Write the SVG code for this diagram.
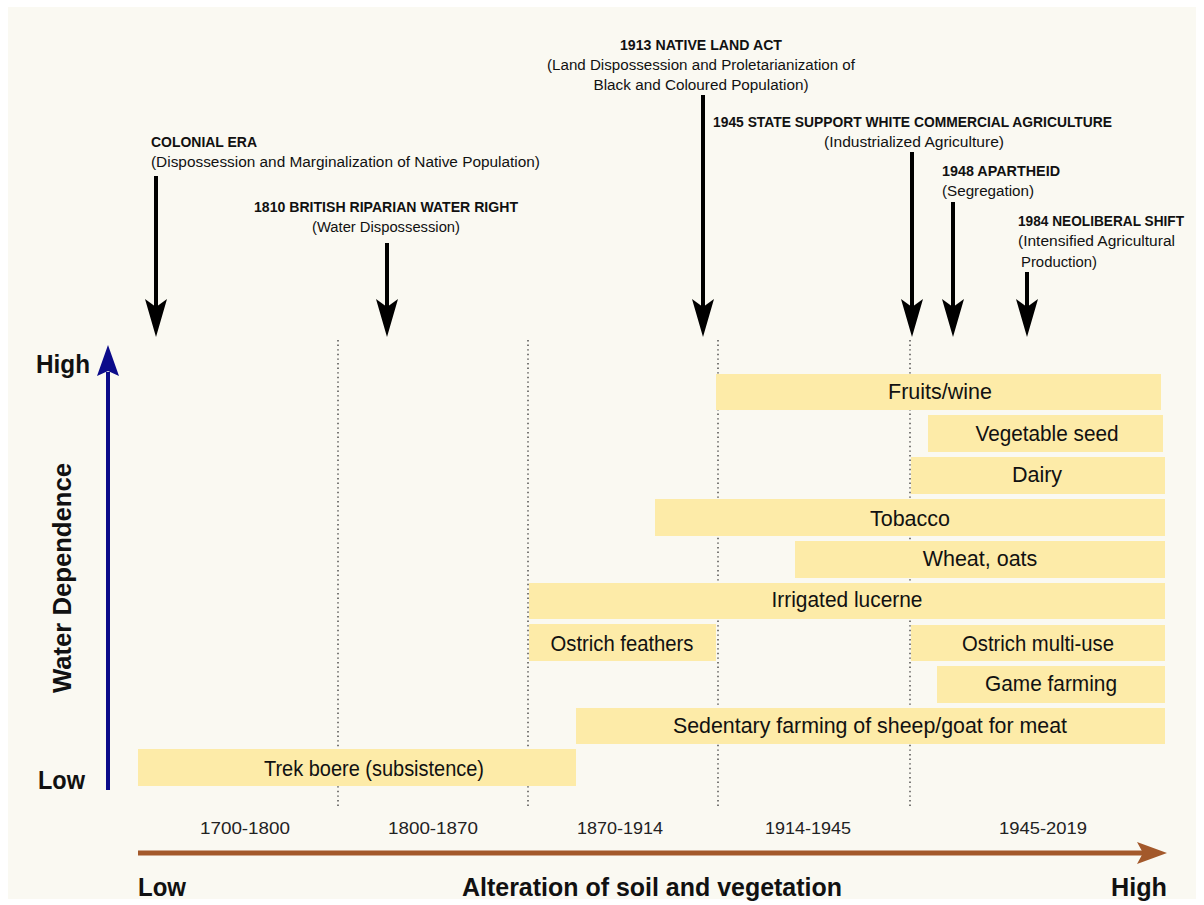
<svg xmlns="http://www.w3.org/2000/svg" width="1204" height="905" viewBox="0 0 1204 905">
<style>
.t{font-family:"Liberation Sans",Arial,sans-serif;fill:#111}
.ev{font-size:14px;font-weight:bold}
.sub{font-size:14px}
.bar{fill:#FDEBA8}
.bl{font-size:21.5px;text-anchor:middle}
.per{font-size:17px;text-anchor:middle;fill:#222}
.ax{font-size:25px;font-weight:bold}
.dot{stroke:#444;stroke-width:1.4;stroke-dasharray:1.4 3.2;fill:none}
.ea{stroke:#000;stroke-width:4;marker-end:url(#ah)}
</style>
<defs>
<marker id="ah" viewBox="0 0 38 22" refX="21" refY="11" markerWidth="38" markerHeight="22" markerUnits="userSpaceOnUse" orient="auto">
<path d="M0,0 L8,11 L0,22 L38,11 Z" fill="#000"/>
</marker>
</defs>
<rect x="0" y="0" width="1204" height="905" fill="#ffffff"/>
<rect x="8" y="7" width="1188" height="892" fill="#FAF9F2"/>

<g id="gridlines">
<line class="dot" x1="338" y1="340" x2="338" y2="806"/>
<line class="dot" x1="528" y1="340" x2="528" y2="806"/>
<line class="dot" x1="718" y1="340" x2="718" y2="806"/>
<line class="dot" x1="910" y1="340" x2="910" y2="806"/>
</g>

<g id="bar-fruits"><rect class="bar" x="716" y="374" width="445" height="36"/><text class="t bl" x="940" y="399">Fruits/wine</text></g>
<g id="bar-vegseed"><rect class="bar" x="928" y="415" width="235" height="37"/><text class="t bl" x="1047" y="441" textLength="143" lengthAdjust="spacingAndGlyphs">Vegetable seed</text></g>
<g id="bar-dairy"><rect class="bar" x="911" y="457" width="254" height="37"/><text class="t bl" x="1037" y="482">Dairy</text></g>
<g id="bar-tobacco"><rect class="bar" x="655" y="499" width="510" height="37"/><text class="t bl" x="910" y="526">Tobacco</text></g>
<g id="bar-wheat"><rect class="bar" x="795" y="541" width="370" height="37"/><text class="t bl" x="980" y="566">Wheat, oats</text></g>
<g id="bar-lucerne"><rect class="bar" x="529" y="583" width="636" height="36"/><text class="t bl" x="847" y="607" textLength="151" lengthAdjust="spacingAndGlyphs">Irrigated lucerne</text></g>
<g id="bar-ostrich-feathers"><rect class="bar" x="529" y="624" width="187" height="37"/><text class="t bl" x="622" y="651" textLength="143" lengthAdjust="spacingAndGlyphs">Ostrich feathers</text></g>
<g id="bar-ostrich-multi"><rect class="bar" x="911" y="625" width="254" height="36"/><text class="t bl" x="1038" y="651" textLength="152" lengthAdjust="spacingAndGlyphs">Ostrich multi-use</text></g>
<g id="bar-game"><rect class="bar" x="937" y="666" width="228" height="37"/><text class="t bl" x="1051" y="691" textLength="132" lengthAdjust="spacingAndGlyphs">Game farming</text></g>
<g id="bar-sedentary"><rect class="bar" x="576" y="708" width="589" height="36"/><text class="t bl" x="870" y="733" textLength="394" lengthAdjust="spacingAndGlyphs">Sedentary farming of sheep/goat for meat</text></g>
<g id="bar-trek"><rect class="bar" x="138" y="749" width="438" height="37"/><text class="t bl" x="374" y="776" textLength="220" lengthAdjust="spacingAndGlyphs">Trek boere (subsistence)</text></g>

<g id="periods">
<text class="t per" x="245" y="834" textLength="90" lengthAdjust="spacingAndGlyphs">1700-1800</text>
<text class="t per" x="433" y="834" textLength="90" lengthAdjust="spacingAndGlyphs">1800-1870</text>
<text class="t per" x="620" y="834" textLength="86" lengthAdjust="spacingAndGlyphs">1870-1914</text>
<text class="t per" x="808" y="834" textLength="86" lengthAdjust="spacingAndGlyphs">1914-1945</text>
<text class="t per" x="1043" y="834" textLength="88" lengthAdjust="spacingAndGlyphs">1945-2019</text>
</g>

<g id="y-axis">
<line x1="108" y1="790" x2="108" y2="372" stroke="#0B0B8A" stroke-width="4"/>
<path d="M108,345 L119,376 L108,371 L97,376 Z" fill="#0B0B8A"/>
<text class="t ax" x="36" y="373" textLength="54" lengthAdjust="spacingAndGlyphs">High</text>
<text class="t ax" x="38" y="789" textLength="47" lengthAdjust="spacingAndGlyphs">Low</text>
<text class="t ax" transform="translate(71,578) rotate(-90)" text-anchor="middle" textLength="230" lengthAdjust="spacingAndGlyphs">Water Dependence</text>
</g>

<g id="x-axis">
<line x1="138" y1="853" x2="1145" y2="853" stroke="#A3592B" stroke-width="5"/>
<path d="M1167,853 L1137,842 L1143,853 L1137,864 Z" fill="#A3592B"/>
<text class="t ax" x="138" y="896" textLength="48" lengthAdjust="spacingAndGlyphs">Low</text>
<text class="t ax" x="652" y="896" text-anchor="middle" textLength="380" lengthAdjust="spacingAndGlyphs">Alteration of soil and vegetation</text>
<text class="t ax" x="1167" y="896" text-anchor="end" textLength="56" lengthAdjust="spacingAndGlyphs">High</text>
</g>

<g id="connectors">
<line class="ea" x1="156" y1="176" x2="156" y2="320"/>
<line class="ea" x1="387" y1="243" x2="387" y2="320"/>
<line class="ea" x1="703" y1="95" x2="703" y2="320"/>
<line class="ea" x1="912" y1="152" x2="912" y2="320"/>
<line class="ea" x1="953" y1="202" x2="953" y2="320"/>
<line class="ea" x1="1027" y1="272" x2="1027" y2="320"/>
</g>

<g id="ev-colonial">
<text class="t ev" x="151" y="147" textLength="106" lengthAdjust="spacingAndGlyphs">COLONIAL ERA</text>
<text class="t sub" x="151" y="167" textLength="389" lengthAdjust="spacingAndGlyphs">(Dispossession and Marginalization of Native Population)</text>
</g>
<g id="ev-1810">
<text class="t ev" x="386" y="212" text-anchor="middle" textLength="264" lengthAdjust="spacingAndGlyphs">1810 BRITISH RIPARIAN WATER RIGHT</text>
<text class="t sub" x="386" y="232" text-anchor="middle" textLength="148" lengthAdjust="spacingAndGlyphs">(Water Dispossession)</text>
</g>
<g id="ev-1913">
<text class="t ev" x="701" y="50" text-anchor="middle" textLength="162" lengthAdjust="spacingAndGlyphs">1913 NATIVE LAND ACT</text>
<text class="t sub" x="701" y="70" text-anchor="middle" textLength="308" lengthAdjust="spacingAndGlyphs">(Land Dispossession and Proletarianization of</text>
<text class="t sub" x="701" y="90" text-anchor="middle" textLength="215" lengthAdjust="spacingAndGlyphs">Black and Coloured Population)</text>
</g>
<g id="ev-1945">
<text class="t ev" x="713" y="127" textLength="399" lengthAdjust="spacingAndGlyphs">1945 STATE SUPPORT WHITE COMMERCIAL AGRICULTURE</text>
<text class="t sub" x="914" y="147" text-anchor="middle" textLength="180" lengthAdjust="spacingAndGlyphs">(Industrialized Agriculture)</text>
</g>
<g id="ev-1948">
<text class="t ev" x="942" y="176" textLength="118" lengthAdjust="spacingAndGlyphs">1948 APARTHEID</text>
<text class="t sub" x="942" y="196" textLength="92" lengthAdjust="spacingAndGlyphs">(Segregation)</text>
</g>
<g id="ev-1984">
<text class="t ev" x="1018" y="226" textLength="166" lengthAdjust="spacingAndGlyphs">1984 NEOLIBERAL SHIFT</text>
<text class="t sub" x="1018" y="246" textLength="157" lengthAdjust="spacingAndGlyphs">(Intensified Agricultural</text>
<text class="t sub" x="1021" y="267" textLength="76" lengthAdjust="spacingAndGlyphs">Production)</text>
</g>
</svg>
